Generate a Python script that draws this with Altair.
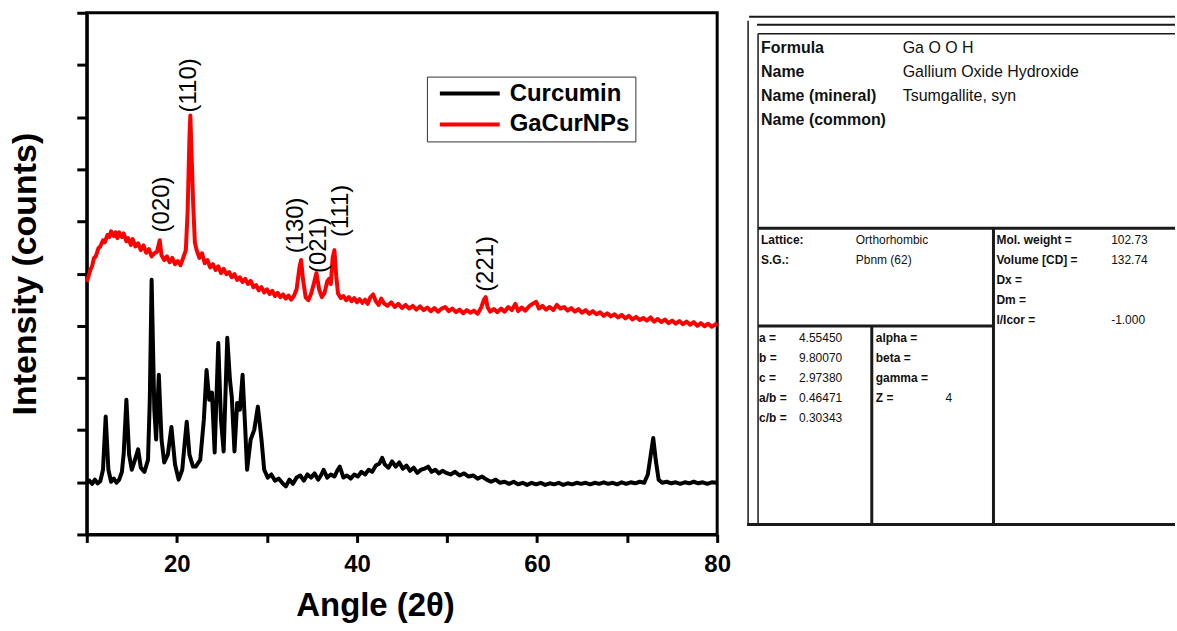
import altair as alt
import pandas as pd

# ---------------- XRD data ----------------
cur_angle = [10.0,10.3,10.6,10.9,11.2,11.5,11.8,12.1,12.4,12.7,13.0,13.3,13.6,13.9,14.1,14.4,14.7,15.0,15.3,15.7,
             16.0,16.4,16.8,17.0,17.2,17.5,17.7,18.0,18.3,18.6,19.0,19.4,19.8,20.2,20.6,20.9,21.1,21.4,21.8,22.1,
             22.6,23.0,23.3,23.6,23.9,24.2,24.6,24.9,25.2,25.6,25.9,26.1,26.4,26.7,27.0,27.3,27.6,27.8,28.2,28.6,
             29.0,29.4,29.7,30.1,30.5,30.9,31.3,31.7,32.1,32.5,32.9,33.3,33.7,34.1,34.5,34.9,35.3,35.7,36.0,36.3,
             36.7,37.1,37.5,37.8,38.1,38.5,38.9,39.3,39.7,40.1,40.5,40.9,41.3,41.7,42.1,42.5,42.8,43.1,43.5,43.9,
             44.3,44.7,45.1,45.5,45.9,46.3,46.7,47.1,47.5,47.9,48.3,48.7,49.1,49.5,49.9,50.4,50.9,51.4,51.9,52.4,
             52.9,53.4,53.9,54.4,54.9,55.4,55.9,56.4,56.9,57.4,57.9,58.4,58.9,59.4,59.9,60.4,60.9,61.4,61.9,62.4,
             62.9,63.4,63.9,64.4,64.9,65.4,65.9,66.4,66.9,67.4,67.9,68.4,68.9,69.4,69.9,70.4,70.9,71.4,71.9,72.3,
             72.6,72.9,73.2,73.5,73.9,74.4,74.9,75.4,75.9,76.4,76.9,77.4,77.9,78.4,78.9,79.4,80.0]
cur_int = [0.99,1.03,0.97,1.05,0.98,1.02,1.24,2.26,1.24,1.01,1.07,0.99,1.05,1.20,1.55,2.58,1.53,1.24,1.40,1.63,
           1.28,1.20,1.43,2.60,4.88,2.39,1.82,3.06,1.82,1.38,1.53,2.06,1.34,1.05,1.24,1.80,2.16,1.53,1.30,1.30,
           1.43,2.20,3.15,2.58,2.72,1.57,3.67,2.20,1.59,3.77,2.96,2.64,1.59,2.52,2.39,3.06,2.01,1.24,1.82,2.01,
           2.45,1.82,1.24,1.09,1.15,1.03,1.07,0.99,0.92,1.05,0.97,1.09,1.13,1.03,1.15,1.09,1.17,1.05,1.13,1.24,
           1.09,1.15,1.11,1.22,1.30,1.09,1.13,1.07,1.15,1.11,1.20,1.15,1.24,1.20,1.32,1.36,1.47,1.34,1.28,1.40,
           1.30,1.38,1.26,1.32,1.22,1.28,1.18,1.24,1.26,1.30,1.20,1.24,1.17,1.22,1.18,1.15,1.20,1.13,1.17,1.11,
           1.13,1.07,1.11,1.05,1.01,1.05,0.99,1.01,0.97,1.01,0.96,0.99,0.95,0.99,0.96,0.99,0.95,0.98,0.96,0.99,
           0.95,0.98,0.96,0.99,0.97,0.99,0.96,0.99,0.97,1.00,0.97,0.99,0.96,1.00,0.97,1.00,0.98,1.01,0.99,1.15,
           1.50,1.85,1.40,1.05,0.99,1.01,0.98,1.00,0.97,1.00,0.98,1.01,0.98,1.00,0.97,1.00,0.99]

ga_angle = [10.0,10.2,10.4,10.6,10.8,11.0,11.3,11.5,11.8,12.0,12.3,12.5,12.7,13.0,13.2,13.4,13.6,13.9,14.1,14.4,
            14.6,14.9,15.1,15.4,15.7,16.0,16.3,16.6,16.9,17.2,17.5,17.8,18.1,18.3,18.6,18.9,19.2,19.5,19.8,20.1,
            20.4,20.7,21.0,21.2,21.4,21.5,21.6,21.8,22.0,22.2,22.5,22.8,23.1,23.4,23.7,24.0,24.3,24.6,24.9,25.2,
            25.5,25.8,26.1,26.4,26.7,27.0,27.3,27.6,27.9,28.2,28.5,28.8,29.1,29.4,29.7,30.0,30.3,30.6,30.9,31.2,
            31.5,31.8,32.1,32.4,32.7,33.0,33.3,33.6,33.8,34.0,34.3,34.6,34.9,35.2,35.5,35.8,36.1,36.4,36.7,36.9,
            37.1,37.3,37.5,37.7,37.9,38.2,38.5,38.8,39.1,39.4,39.7,40.0,40.3,40.6,40.9,41.2,41.5,41.8,42.1,42.4,
            42.7,43.0,43.4,43.8,44.2,44.6,45.0,45.4,45.8,46.2,46.6,47.0,47.4,47.8,48.2,48.6,49.0,49.4,49.8,50.2,
            50.6,51.0,51.4,51.8,52.2,52.6,53.0,53.4,53.8,54.1,54.3,54.5,54.8,55.2,55.6,56.0,56.4,56.8,57.2,57.6,
            57.9,58.3,58.7,59.1,59.5,59.9,60.2,60.6,61.0,61.4,61.8,62.2,62.6,63.0,63.4,63.8,64.2,64.6,65.0,65.4,
            65.8,66.2,66.6,67.0,67.4,67.8,68.2,68.6,69.0,69.4,69.8,70.2,70.6,71.0,71.4,71.8,72.2,72.6,73.0,73.4,
            73.8,74.2,74.6,75.0,75.4,75.8,76.2,76.6,77.0,77.4,77.8,78.2,78.6,79.0,79.4,80.0]
ga_int = [4.84,4.95,5.07,5.15,5.30,5.33,5.49,5.52,5.64,5.60,5.74,5.70,5.81,5.72,5.79,5.68,5.79,5.70,5.77,5.62,
          5.68,5.55,5.66,5.52,5.58,5.45,5.54,5.40,5.47,5.33,5.39,5.42,5.64,5.35,5.26,5.33,5.22,5.30,5.18,5.24,
          5.16,5.30,5.45,6.20,7.60,8.03,7.50,6.40,5.60,5.45,5.30,5.39,5.20,5.26,5.12,5.18,5.07,5.14,5.01,5.09,
          4.99,5.03,4.93,4.99,4.88,4.93,4.84,4.90,4.80,4.86,4.74,4.78,4.68,4.74,4.64,4.70,4.61,4.67,4.57,4.63,
          4.55,4.60,4.52,4.58,4.50,4.57,4.70,5.10,5.26,4.90,4.55,4.49,4.61,4.80,5.01,4.70,4.55,4.63,4.85,4.90,
          4.80,5.30,5.45,4.95,4.62,4.53,4.57,4.49,4.55,4.47,4.53,4.45,4.51,4.44,4.50,4.42,4.55,4.60,4.47,4.40,
          4.52,4.43,4.38,4.45,4.36,4.42,4.34,4.40,4.33,4.38,4.31,4.37,4.30,4.35,4.28,4.34,4.27,4.33,4.36,4.28,
          4.33,4.26,4.31,4.24,4.30,4.25,4.29,4.23,4.35,4.50,4.55,4.36,4.27,4.32,4.26,4.33,4.27,4.36,4.30,4.42,
          4.28,4.35,4.29,4.37,4.42,4.46,4.33,4.38,4.31,4.36,4.30,4.40,4.33,4.36,4.29,4.34,4.27,4.32,4.25,4.30,
          4.23,4.28,4.22,4.26,4.19,4.24,4.18,4.22,4.16,4.21,4.14,4.19,4.12,4.17,4.11,4.15,4.10,4.16,4.08,4.13,
          4.07,4.12,4.05,4.10,4.04,4.09,4.03,4.08,4.02,4.07,4.00,4.05,3.99,4.04,3.98,4.05]

series_names = ["Curcumin", "GaCurNPs"]
series_colors = ["#000000", "#ff0000"]

peak_labels = ["(020)", "(110)", "(130)", "(021)", "(111)", "(221)"]
peak_angle = [18.4, 21.4, 33.2, 35.8, 38.2, 54.3]
peak_int = [5.79, 8.09, 5.39, 5.01, 5.70, 4.65]

x_ticks = [10, 20, 30, 40, 50, 60, 70, 80]
y_ticks = [0, 1, 2, 3, 4, 5, 6, 7, 8, 9, 10]

# ---------------- Reference card text ----------------
card_top_keys = ["Formula", "Name", "Name (mineral)", "Name (common)"]
card_top_vals = ["Ga O O H", "Gallium Oxide Hydroxide", "Tsumgallite, syn", ""]
lattice_keys = ["Lattice:", "S.G.:"]
lattice_vals = ["Orthorhombic", "Pbnm (62)"]
phys_keys = ["Mol. weight =", "Volume [CD] =", "Dx =", "Dm =", "I/Icor ="]
phys_vals = ["102.73", "132.74", "", "", "-1.000"]
cell_keys = ["a =", "b =", "c =", "a/b =", "c/b ="]
cell_vals = ["4.55450", "9.80070", "2.97380", "0.46471", "0.30343"]
angle_keys = ["alpha =", "beta =", "gamma =", "Z ="]
angle_vals = ["", "", "", "4"]

FONT = "Liberation Sans"

# ---------------- Left: XRD plot ----------------
xrd = pd.concat([
    pd.DataFrame({"angle": cur_angle, "intensity": cur_int, "sample": series_names[0]}),
    pd.DataFrame({"angle": ga_angle, "intensity": ga_int, "sample": series_names[1]}),
])
peaks = pd.DataFrame({"label": peak_labels, "angle": peak_angle, "intensity": peak_int})

xscale = alt.Scale(domain=[10, 80], nice=False, zero=False)
yscale = alt.Scale(domain=[0, 10], nice=False, zero=False)

lines = alt.Chart(xrd).mark_line(strokeWidth=4, strokeJoin="round").encode(
    x=alt.X("angle:Q", scale=xscale,
            axis=alt.Axis(values=x_ticks, title="Angle (2θ)", grid=False,
                          labelExpr="datum.value % 20 == 0 ? datum.label : ''",
                          labelFlush=False,
                          labelFont=FONT, labelFontSize=24, labelFontWeight="bold", labelColor="black",
                          labelPadding=10, tickSize=8, tickWidth=3, tickColor="black",
                          domainWidth=3, domainColor="black",
                          titleFont=FONT, titleFontSize=33, titleFontWeight="bold", titleColor="black",
                          titlePadding=13, titleX=289)),
    y=alt.Y("intensity:Q", scale=yscale,
            axis=alt.Axis(values=y_ticks, labels=False, title="Intensity (counts)", grid=False,
                          tickSize=10, tickWidth=3, tickColor="black",
                          domainWidth=3, domainColor="black",
                          titleFont=FONT, titleFontSize=34, titleFontWeight="bold", titleColor="black",
                          titlePadding=33)),
    color=alt.Color("sample:N", scale=alt.Scale(domain=series_names, range=series_colors),
                    legend=alt.Legend(title=None, orient="none", legendX=341, legendY=64,
                                      strokeColor="#333333", fillColor="white",
                                      padding=5, rowPadding=7,
                                      labelFont=FONT, labelFontSize=24, labelFontWeight="bold",
                                      labelColor="black", labelLimit=300,
                                      symbolType="M-3,0H3", symbolSize=400, symbolStrokeWidth=4,
                                      symbolOffset=26, labelOffset=28)),
    order=alt.Order("angle:Q"),
    detail="sample:N",
)

peak_text = alt.Chart(peaks).mark_text(angle=270, align="left", baseline="middle",
                                       font=FONT, fontSize=24, color="black").encode(
    x=alt.X("angle:Q", scale=xscale),
    y=alt.Y("intensity:Q", scale=yscale),
    text="label:N",
)

left = alt.layer(lines, peak_text).properties(
    width=632, height=523,
    view=alt.ViewBackground(stroke="black", strokeWidth=3),
)

# ---------------- Right: PDF reference card ----------------
# card layout (card coordinates, x to the right, y downward)
top_rows_y = [35, 59, 83, 108]
lat_rows_y = [228, 248]
phys_rows_y = [228, 248, 268, 288, 308]
cell_rows_y = [326, 346, 366, 386, 406]

def rows(keys, vals, kx, vx, ys):
    return pd.DataFrame({"key": keys, "val": vals, "kx": kx, "vx": vx, "y": ys})

top_df = rows(card_top_keys, card_top_vals, 14, 156, top_rows_y)
small_df = pd.concat([
    rows(lattice_keys, lattice_vals, 14, 109, lat_rows_y),
    rows(phys_keys, phys_vals, 250, 365, phys_rows_y),
    rows(cell_keys, cell_vals, 12, 52, cell_rows_y),
    rows(angle_keys, angle_vals, 129, 199, cell_rows_y[:4]),
])

rule_df = pd.DataFrame({
    "x1": [2, 10, 11, 11, 11, 247, 11, 125, 0, 1],
    "x2": [429, 429, 429, 11, 429, 247, 247, 125, 429, 1],
    "y1": [4, 12, 21, 21, 216, 216, 314, 314, 513, 8],
    "y2": [4, 12, 21, 513, 216, 513, 314, 513, 513, 513],
    "w":  [2, 2, 1.5, 1.5, 3, 3, 3, 3, 3, 1.5],
})

cx = alt.Scale(domain=[0, 429], nice=False, zero=False)
cy = alt.Scale(domain=[0, 523], nice=False, zero=False, reverse=True)

card_rules = alt.Chart(rule_df).mark_rule(color="#1a1a1a").encode(
    x=alt.X("x1:Q", scale=cx, axis=None), x2="x2:Q",
    y=alt.Y("y1:Q", scale=cy, axis=None), y2="y2:Q",
    strokeWidth=alt.StrokeWidth("w:Q", scale=None),
)

def texts(df, field, xfield, size, weight):
    return alt.Chart(df).mark_text(align="left", baseline="middle", font=FONT, fontSize=size,
                                   fontWeight=weight, color="#111111").encode(
        x=alt.X(f"{xfield}:Q", scale=cx, axis=None),
        y=alt.Y("y:Q", scale=cy, axis=None),
        text=f"{field}:N",
    )

card = alt.layer(
    card_rules,
    texts(top_df, "key", "kx", 16, "bold"),
    texts(top_df, "val", "vx", 16, "normal"),
    texts(small_df, "key", "kx", 12, "bold"),
    texts(small_df, "val", "vx", 12, "normal"),
).properties(width=429, height=523, view=alt.ViewBackground(strokeWidth=0, stroke="transparent"))

chart = alt.hconcat(left, card, spacing=30, bounds="flush").properties(
    padding={"left": 7, "top": 9, "right": 0, "bottom": 0},
    background="white",
).configure_view(stroke="transparent")

chart.save("out.html", embed_options={"renderer": "svg", "actions": False})
